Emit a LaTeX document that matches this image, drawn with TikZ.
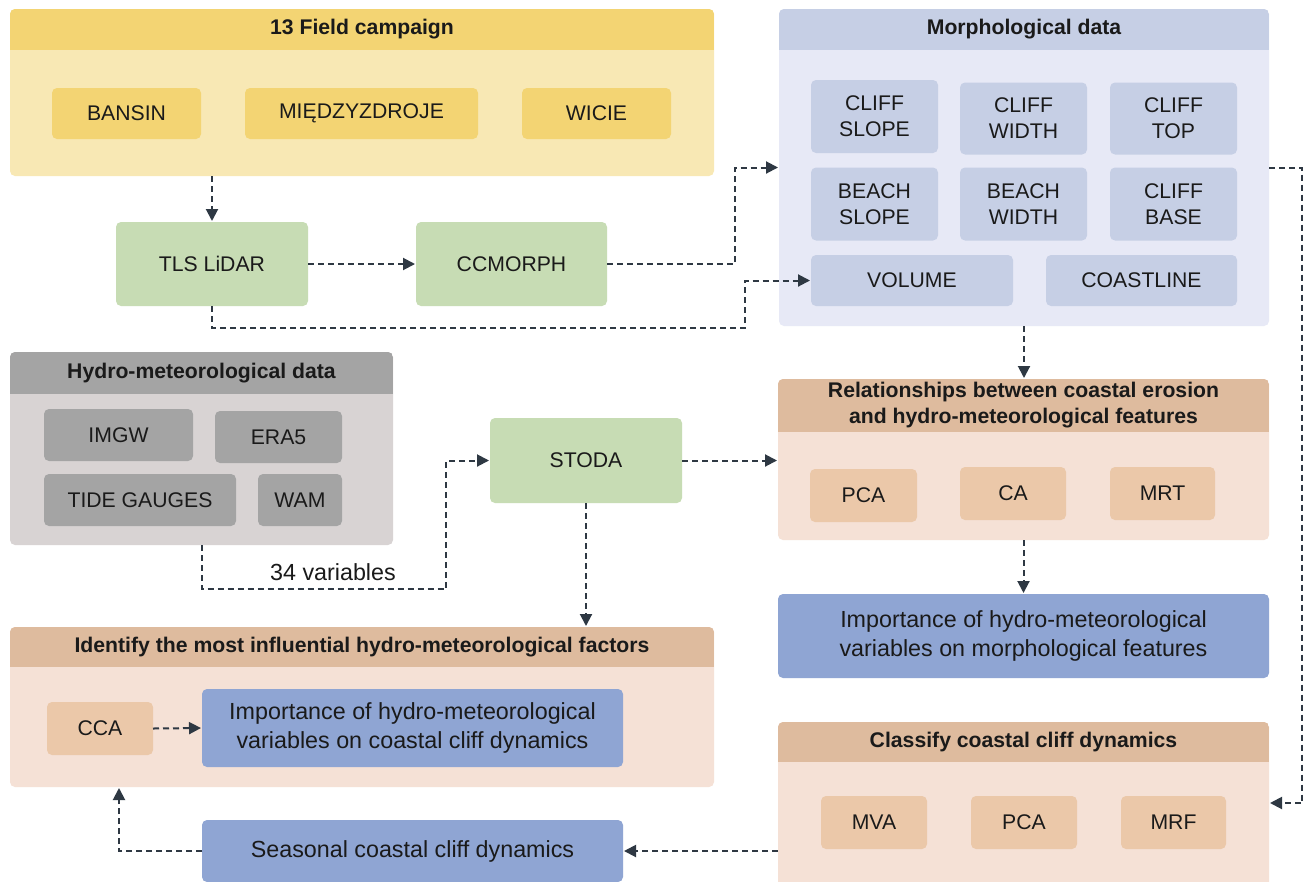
\documentclass[tikz,border=0pt]{standalone}
\usepackage{fontspec}
\setmainfont{Liberation Sans}
\usetikzlibrary{arrows.meta}

\begin{document}
\begin{tikzpicture}[x=1pt, y=-1pt,
    every node/.style={inner sep=0pt, outer sep=0pt, align=center, text=txtcolor},
    panel/.style={rounded corners=5pt},
    item/.style={rounded corners=5pt, font=\fontsize{21.2}{26}\selectfont},
    head/.style={font=\bfseries\fontsize{21.2}{26}\selectfont},
    result/.style={rounded corners=5pt, fill=resultblue, font=\fontsize{23.3}{29}\selectfont},
    flow/.style={-{Triangle[length=12pt, width=12pt]}, line width=2pt, dash pattern=on 6pt off 4pt, draw=arrowcolor, shorten >=1pt}
]
    % Define colors
    \definecolor{fieldhd}{HTML}{F3D473}
    \definecolor{fieldbg}{HTML}{F8E8B4}
    \definecolor{procgreen}{HTML}{C7DCB4}
    \definecolor{morphhd}{HTML}{C6CFE5}
    \definecolor{morphbg}{HTML}{E7E9F6}
    \definecolor{hydrohd}{HTML}{A4A4A4}
    \definecolor{hydrobg}{HTML}{D8D3D3}
    \definecolor{statshd}{HTML}{DEBB9E}
    \definecolor{statsbg}{HTML}{F5E1D6}
    \definecolor{statsitem}{HTML}{EBC8A9}
    \definecolor{resultblue}{HTML}{8FA5D3}
    \definecolor{arrowcolor}{HTML}{2E3843}
    \definecolor{txtcolor}{HTML}{1A1A1A}

    \useasboundingbox[fill=white] (0,0) rectangle (1305,881);

    % Field campaign
    \node[panel, fill=fieldbg, minimum width=704pt, minimum height=167pt] (field) at (362,92.5) {};
    \begin{scope}
        \clip[rounded corners=5pt] (field.north west) rectangle (field.south east);
        \node[head, fill=fieldhd, minimum width=704pt, minimum height=41pt, anchor=north] (fieldhd) at (field.north) {13 Field campaign};
    \end{scope}
    \node[item, fill=fieldhd, minimum width=149pt, minimum height=51pt] (bansin) at (126.5,113.5) {BANSIN};
    \node[item, fill=fieldhd, minimum width=233pt, minimum height=51pt] (miedzy) at (361.5,113.5) {MIĘDZYZDROJE};
    \node[item, fill=fieldhd, minimum width=149pt, minimum height=51pt] (wicie) at (596.5,113.5) {WICIE};

    % Processing tools
    \node[item, fill=procgreen, minimum width=192pt, minimum height=84pt] (tls) at (212,264) {TLS LiDAR};
    \node[item, fill=procgreen, minimum width=191pt, minimum height=84pt] (ccmorph) at (511.5,264) {CCMORPH};
    \node[item, fill=procgreen, minimum width=192pt, minimum height=85pt] (stoda) at (586,460.5) {STODA};

    % Morphological data
    \node[panel, fill=morphbg, minimum width=490pt, minimum height=317pt] (morph) at (1024,167.5) {};
    \begin{scope}
        \clip[rounded corners=5pt] (morph.north west) rectangle (morph.south east);
        \node[head, fill=morphhd, minimum width=490pt, minimum height=41pt, anchor=north] (morphhd) at (morph.north) {Morphological data};
    \end{scope}
    \node[item, fill=morphhd, minimum width=127pt, minimum height=73pt] (cslope) at (874.5,116.5) {CLIFF\\SLOPE};
    \node[item, fill=morphhd, minimum width=127pt, minimum height=72pt] (cwidth) at (1023.5,118.5) {CLIFF\\WIDTH};
    \node[item, fill=morphhd, minimum width=127pt, minimum height=72pt] (ctop) at (1173.5,118.5) {CLIFF\\TOP};
    \node[item, fill=morphhd, minimum width=127pt, minimum height=73pt] (bslope) at (874.5,204) {BEACH\\SLOPE};
    \node[item, fill=morphhd, minimum width=127pt, minimum height=73pt] (bwidth) at (1023.5,204) {BEACH\\WIDTH};
    \node[item, fill=morphhd, minimum width=127pt, minimum height=73pt] (cbase) at (1173.5,204) {CLIFF\\BASE};
    \node[item, fill=morphhd, minimum width=202pt, minimum height=51pt] (volume) at (912,280.5) {VOLUME};
    \node[item, fill=morphhd, minimum width=191pt, minimum height=51pt] (coast) at (1141.5,280.5) {COASTLINE};

    % Hydro-meteorological data
    \node[panel, fill=hydrobg, minimum width=383pt, minimum height=193pt] (hydro) at (201.5,448.5) {};
    \begin{scope}
        \clip[rounded corners=5pt] (hydro.north west) rectangle (hydro.south east);
        \node[head, fill=hydrohd, minimum width=383pt, minimum height=42pt, anchor=north] (hydrohd) at (hydro.north) {Hydro-meteorological data};
    \end{scope}
    \node[item, fill=hydrohd, minimum width=149pt, minimum height=52pt] (imgw) at (118.5,435) {IMGW};
    \node[item, fill=hydrohd, minimum width=127pt, minimum height=52pt] (era) at (278.5,437) {ERA5};
    \node[item, fill=hydrohd, minimum width=192pt, minimum height=52pt] (tide) at (140,500) {TIDE GAUGES};
    \node[item, fill=hydrohd, minimum width=84pt, minimum height=52pt] (wam) at (300,500) {WAM};

    % Relationships
    \node[panel, fill=statsbg, minimum width=491pt, minimum height=161pt] (rel) at (1023.5,459.5) {};
    \begin{scope}
        \clip[rounded corners=5pt] (rel.north west) rectangle (rel.south east);
        \node[head, fill=statshd, minimum width=491pt, minimum height=53pt, anchor=north] (relhd) at (rel.north) {Relationships between coastal erosion\\and hydro-meteorological features};
    \end{scope}
    \node[item, fill=statsitem, minimum width=107pt, minimum height=53pt] (relpca) at (863.5,495.5) {PCA};
    \node[item, fill=statsitem, minimum width=106pt, minimum height=53pt] (relca) at (1013,493.5) {CA};
    \node[item, fill=statsitem, minimum width=105pt, minimum height=53pt] (relmrt) at (1162.5,493.5) {MRT};
    \node[result, minimum width=491pt, minimum height=84pt] (impmorph) at (1023.5,636) {Importance of hydro-meteorological\\variables on morphological features};

    % Identify factors
    \node[panel, fill=statsbg, minimum width=704pt, minimum height=160pt] (ident) at (362,707) {};
    \begin{scope}
        \clip[rounded corners=5pt] (ident.north west) rectangle (ident.south east);
        \node[head, fill=statshd, minimum width=704pt, minimum height=40pt, anchor=north] (identhd) at (ident.north) {Identify the most influential hydro-meteorological factors};
    \end{scope}
    \node[item, fill=statsitem, minimum width=106pt, minimum height=53pt] (cca) at (100,728.5) {CCA};
    \node[result, minimum width=421pt, minimum height=78pt] (impcliff) at (412.5,728) {Importance of hydro-meteorological\\variables on coastal cliff dynamics};

    % Classify dynamics
    \node[panel, fill=statsbg, minimum width=491pt, minimum height=170pt] (classify) at (1023.5,807) {};
    \begin{scope}
        \clip[rounded corners=5pt] (classify.north west) rectangle (classify.south east);
        \node[head, fill=statshd, minimum width=491pt, minimum height=40pt, anchor=north] (classhd) at (classify.north) {Classify coastal cliff dynamics};
    \end{scope}
    \node[item, fill=statsitem, minimum width=106pt, minimum height=53pt] (mva) at (874,822.5) {MVA};
    \node[item, fill=statsitem, minimum width=106pt, minimum height=53pt] (clspca) at (1024,822.5) {PCA};
    \node[item, fill=statsitem, minimum width=105pt, minimum height=53pt] (mrf) at (1173.5,822.5) {MRF};
    \node[result, minimum width=421pt, minimum height=62pt] (seasonal) at (412.5,851) {Seasonal coastal cliff dynamics};

    % Bend points
    \coordinate (j1) at (745,328);
    \coordinate (j2) at (446,589);
    \coordinate (j3) at (119,787);
    \coordinate (k1) at (1302,803);

    % Connectors
    \draw[flow] (tls.north |- field.south) -- (tls.north);
    \draw[flow] (tls.east) -- (ccmorph.west);
    \draw[flow] (ccmorph.east) -- ++(128,0) |- (morph.west);
    \draw[flow] (tls.south) |- (j1) |- (volume.west);
    \draw[flow] (morph.south) -- (morph.south |- rel.north);
    \draw[flow] (morph.east) -| (k1) -- (k1 -| classify.east);
    \draw[flow] (hydro.south) |- (j2) |- (stoda.west);
    \node[font=\fontsize{23.3}{28}\selectfont] (vars) at (333,572) {34 variables};
    \draw[flow] (stoda.east) -- (stoda.east -| rel.west);
    \draw[flow] (stoda.south) -- (stoda.south |- ident.north);
    \draw[flow] (rel.south) -- (impmorph.north);
    \draw[flow] (cca.east) -- (impcliff.west);
    \draw[flow] (seasonal.east -| classify.west) -- (seasonal.east);
    \draw[flow] (seasonal.west) -| (j3);

\end{tikzpicture}
\end{document}
